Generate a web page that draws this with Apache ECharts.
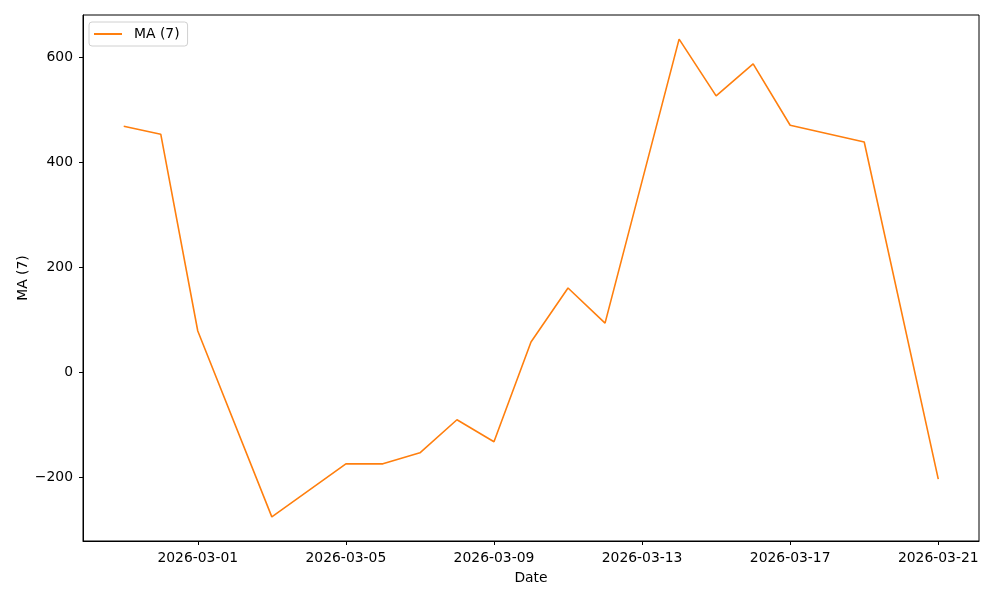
<!DOCTYPE html>
<html>
<head>
<meta charset="utf-8">
<script src="https://cdn.jsdelivr.net/npm/echarts@6/dist/echarts.min.js"></script>
<style>
  html, body { margin: 0; padding: 0; background: #fff; }
  #chart { width: 1000px; height: 600px; }
</style>
</head>
<body>
<div id="chart"></div>
<script>
// data
var dates = ['2026-02-27', '2026-02-28', '2026-03-01', '2026-03-03', '2026-03-05', '2026-03-06',
             '2026-03-07', '2026-03-08', '2026-03-09', '2026-03-10', '2026-03-11', '2026-03-12',
             '2026-03-14', '2026-03-15', '2026-03-16', '2026-03-17', '2026-03-19', '2026-03-21'];
var maValues = [468, 453, 78, -276, -175, -175, -154, -91, -133, 57, 160, 93,
                634, 526, 587, 470, 438, -204];
var xTickDates = ['2026-03-01', '2026-03-05', '2026-03-09', '2026-03-13', '2026-03-17', '2026-03-21'];
var yTicks = [-200, 0, 200, 400, 600];

var DAY = 86400000;
function ts(d) { return Date.parse(d + 'T00:00:00Z'); }
function fmtDate(v) {
  var d = new Date(v);
  var m = d.getUTCMonth() + 1, dd = d.getUTCDate();
  return d.getUTCFullYear() + '-' + (m < 10 ? '0' + m : m) + '-' + (dd < 10 ? '0' + dd : dd);
}

var xMin = ts(dates[0]) - 1.1 * DAY;
var xMax = ts(dates[dates.length - 1]) + 1.1 * DAY;
var xTicks = xTickDates.map(ts);
var seriesData = dates.map(function (d, i) { return [ts(d), maValues[i]]; });

var font = 'DejaVu Sans';
var fs = 13.9;
var chart = echarts.init(document.getElementById('chart'));
chart.setOption({
  animation: false,
  textStyle: { fontFamily: font },
  grid: {
    left: 83, right: 21, top: 15, bottom: 59,
    show: true, borderColor: '#000', borderWidth: 1, backgroundColor: '#fff'
  },
  legend: {
    left: 89, top: 22,
    padding: [5, 8, 5, 5],
    borderColor: '#d0d0d0', borderWidth: 1, borderRadius: 3,
    backgroundColor: '#fff',
    itemWidth: 28, itemHeight: 2, itemGap: 10,
    data: [{ name: 'MA (7)', icon: 'rect' }],
    textStyle: { fontFamily: font, fontSize: fs, color: '#000', padding: [0, 0, 0, 7] }
  },
  xAxis: {
    type: 'value',
    min: xMin, max: xMax,
    name: 'Date', nameLocation: 'middle', nameGap: 30, nameMoveOverlap: false,
    nameTextStyle: { fontFamily: font, fontSize: fs, color: '#000' },
    axisLine: { show: true, onZero: false, lineStyle: { color: '#000', width: 1 } },
    axisTick: { show: true, inside: false, length: 4, customValues: xTicks, lineStyle: { color: '#000' } },
    axisLabel: {
      customValues: xTicks, margin: 10, fontSize: fs, color: '#000', fontFamily: font,
      formatter: function (v) { return fmtDate(v); }
    },
    splitLine: { show: false }
  },
  yAxis: {
    type: 'value',
    min: -322, max: 680,
    name: 'MA (7)', nameLocation: 'middle', nameGap: 53, nameRotate: 90, nameMoveOverlap: false,
    nameTextStyle: { fontFamily: font, fontSize: fs, color: '#000' },
    axisLine: { show: true, onZero: false, lineStyle: { color: '#000', width: 1 } },
    axisTick: { show: true, inside: false, length: 4, customValues: yTicks, lineStyle: { color: '#000' } },
    axisLabel: {
      customValues: yTicks, margin: 10, fontSize: fs, color: '#000', fontFamily: font,
      formatter: function (v) { return v < 0 ? '\u2212' + Math.abs(v) : String(v); }
    },
    splitLine: { show: false }
  },
  series: [{
    name: 'MA (7)',
    type: 'line',
    data: seriesData,
    symbol: 'none',
    color: '#ff7f0e',
    lineStyle: { color: '#ff7f0e', width: 1.6 }
  }]
});
</script>
</body>
</html>
